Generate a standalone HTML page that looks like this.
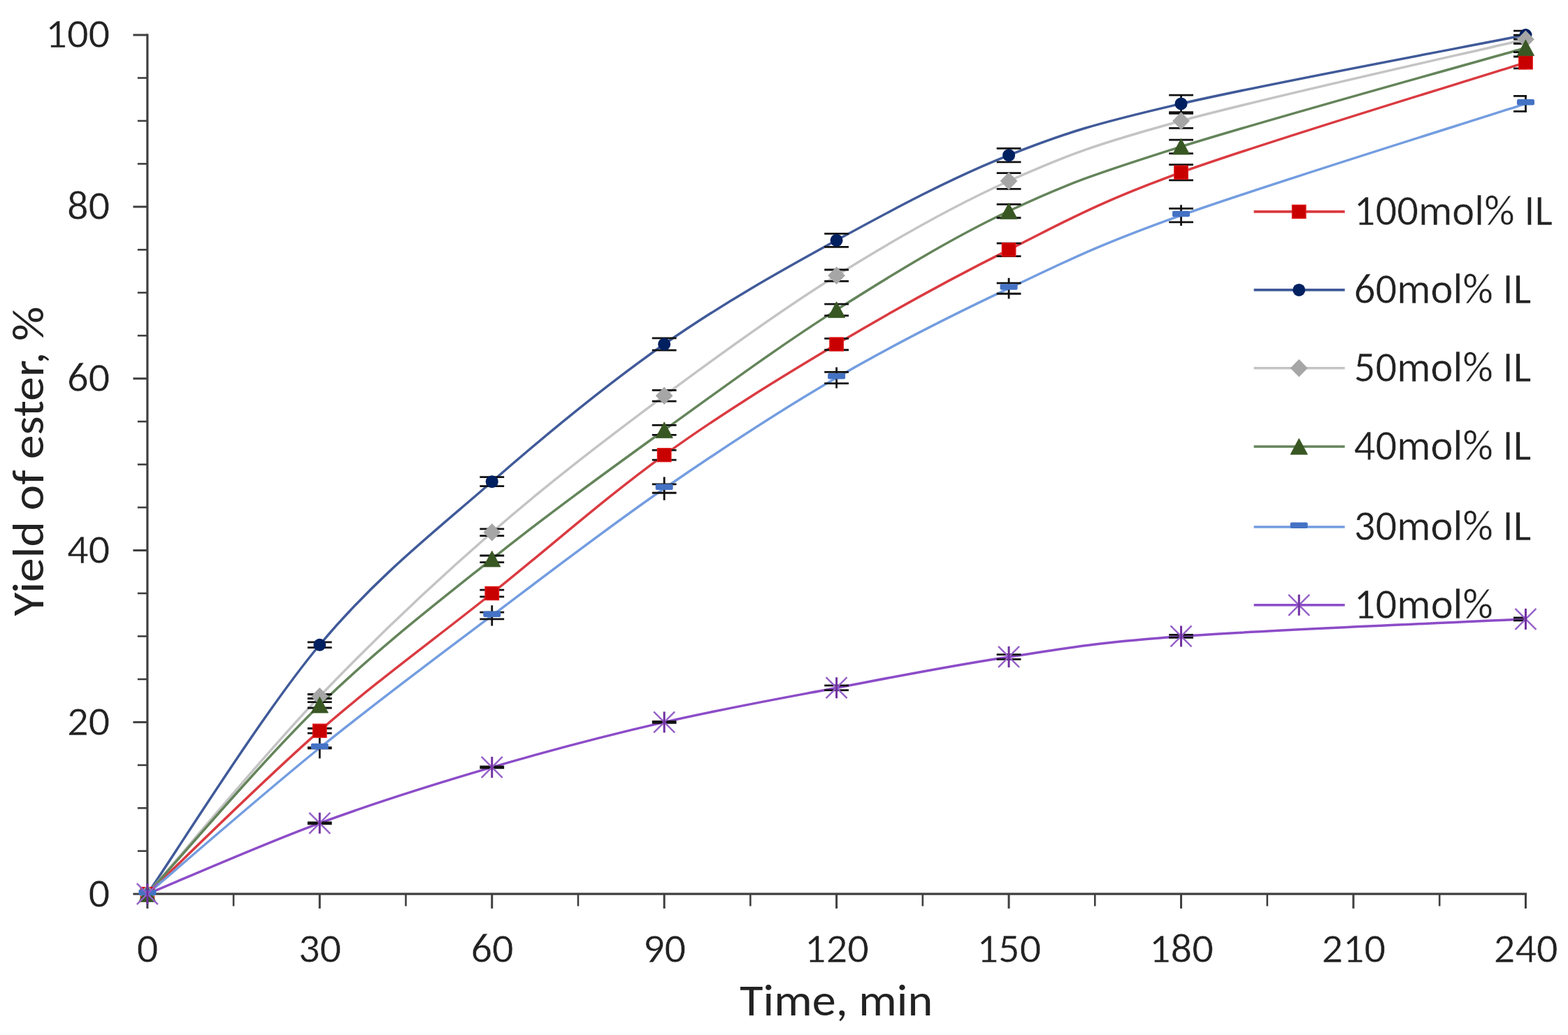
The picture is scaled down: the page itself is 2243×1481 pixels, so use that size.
<!DOCTYPE html>
<html><head><meta charset="utf-8"><title>Yield of ester vs time</title>
<style>html,body{margin:0;padding:0;background:#fff;}svg{display:block;}</style></head>
<body>
<svg width="2243" height="1481" viewBox="0 0 2243 1481">
<rect width="2243" height="1481" fill="#fff"/>
<g>
<defs><clipPath id="pa"><rect x="0" y="0" width="2184" height="1481"/></clipPath></defs>

<g stroke="#3F3F3F" fill="none" stroke-linecap="butt">
<path d="M210.85,48.45 V1280.7" stroke-width="3.2"/>
<path d="M209.35,1279.2 H2184.05" stroke-width="3.2"/>
<path d="M190.4,1279.20 H210.85" stroke-width="3"/>
<path d="M196.8,1217.74 H210.85" stroke-width="2.6"/>
<path d="M196.8,1156.29 H210.85" stroke-width="2.6"/>
<path d="M196.8,1094.83 H210.85" stroke-width="2.6"/>
<path d="M190.4,1033.37 H210.85" stroke-width="3"/>
<path d="M196.8,971.91 H210.85" stroke-width="2.6"/>
<path d="M196.8,910.46 H210.85" stroke-width="2.6"/>
<path d="M196.8,849.00 H210.85" stroke-width="2.6"/>
<path d="M190.4,787.54 H210.85" stroke-width="3"/>
<path d="M196.8,726.08 H210.85" stroke-width="2.6"/>
<path d="M196.8,664.63 H210.85" stroke-width="2.6"/>
<path d="M196.8,603.17 H210.85" stroke-width="2.6"/>
<path d="M190.4,541.71 H210.85" stroke-width="3"/>
<path d="M196.8,480.25 H210.85" stroke-width="2.6"/>
<path d="M196.8,418.80 H210.85" stroke-width="2.6"/>
<path d="M196.8,357.34 H210.85" stroke-width="2.6"/>
<path d="M190.4,295.88 H210.85" stroke-width="3"/>
<path d="M196.8,234.42 H210.85" stroke-width="2.6"/>
<path d="M196.8,172.97 H210.85" stroke-width="2.6"/>
<path d="M196.8,111.51 H210.85" stroke-width="2.6"/>
<path d="M190.4,50.05 H210.85" stroke-width="3"/>
<path d="M210.85,1279.2 V1300" stroke-width="3"/>
<path d="M334.07,1279.2 V1296.6" stroke-width="2.6"/>
<path d="M457.30,1279.2 V1300" stroke-width="3"/>
<path d="M580.52,1279.2 V1296.6" stroke-width="2.6"/>
<path d="M703.75,1279.2 V1300" stroke-width="3"/>
<path d="M826.98,1279.2 V1296.6" stroke-width="2.6"/>
<path d="M950.20,1279.2 V1300" stroke-width="3"/>
<path d="M1073.42,1279.2 V1296.6" stroke-width="2.6"/>
<path d="M1196.65,1279.2 V1300" stroke-width="3"/>
<path d="M1319.88,1279.2 V1296.6" stroke-width="2.6"/>
<path d="M1443.10,1279.2 V1300" stroke-width="3"/>
<path d="M1566.32,1279.2 V1296.6" stroke-width="2.6"/>
<path d="M1689.55,1279.2 V1300" stroke-width="3"/>
<path d="M1812.77,1279.2 V1296.6" stroke-width="2.6"/>
<path d="M1936.00,1279.2 V1300" stroke-width="3"/>
<path d="M2059.22,1279.2 V1296.6" stroke-width="2.6"/>
<path d="M2182.45,1279.2 V1300" stroke-width="3"/>
</g>
<g font-family="Carlito, 'Liberation Sans', sans-serif" font-size="60.4" fill="#222222" stroke="#fff" stroke-width="0.45">
<text x="157.2" y="1297.60" text-anchor="end" textLength="30.61" lengthAdjust="spacingAndGlyphs">0</text>
<text x="157.2" y="1051.77" text-anchor="end" textLength="61.22" lengthAdjust="spacingAndGlyphs">20</text>
<text x="157.2" y="805.94" text-anchor="end" textLength="61.22" lengthAdjust="spacingAndGlyphs">40</text>
<text x="157.2" y="560.11" text-anchor="end" textLength="61.22" lengthAdjust="spacingAndGlyphs">60</text>
<text x="157.2" y="314.28" text-anchor="end" textLength="61.22" lengthAdjust="spacingAndGlyphs">80</text>
<text x="157.2" y="68.45" text-anchor="end" textLength="91.83" lengthAdjust="spacingAndGlyphs">100</text>
<text x="211.15" y="1376.8" text-anchor="middle" textLength="30.61" lengthAdjust="spacingAndGlyphs">0</text>
<text x="457.60" y="1376.8" text-anchor="middle" textLength="61.22" lengthAdjust="spacingAndGlyphs">30</text>
<text x="704.05" y="1376.8" text-anchor="middle" textLength="61.22" lengthAdjust="spacingAndGlyphs">60</text>
<text x="950.50" y="1376.8" text-anchor="middle" textLength="61.22" lengthAdjust="spacingAndGlyphs">90</text>
<text x="1196.95" y="1376.8" text-anchor="middle" textLength="91.83" lengthAdjust="spacingAndGlyphs">120</text>
<text x="1443.40" y="1376.8" text-anchor="middle" textLength="91.83" lengthAdjust="spacingAndGlyphs">150</text>
<text x="1689.85" y="1376.8" text-anchor="middle" textLength="91.83" lengthAdjust="spacingAndGlyphs">180</text>
<text x="1936.30" y="1376.8" text-anchor="middle" textLength="91.83" lengthAdjust="spacingAndGlyphs">210</text>
<text x="2182.75" y="1376.8" text-anchor="middle" textLength="91.83" lengthAdjust="spacingAndGlyphs">240</text>
</g>
<text x="1196.3" y="1452.8" text-anchor="middle" font-family="Carlito, 'Liberation Sans', sans-serif" font-size="64.5" fill="#222222" textLength="276" lengthAdjust="spacingAndGlyphs">Time, min</text>
<text transform="translate(62.4,881.5) rotate(-90)" x="0" y="0" font-family="Carlito, 'Liberation Sans', sans-serif" font-size="64" fill="#222222" textLength="443" lengthAdjust="spacingAndGlyphs">Yield of ester, %</text>
<g fill="none" stroke-linejoin="round" stroke-linecap="round">
<path d="M210.85,1279.20 C251.92,1240.28 375.15,1117.36 457.30,1045.66 C539.45,973.96 621.60,914.76 703.75,849.00 C785.90,783.24 868.05,710.51 950.20,651.10 C1032.35,591.70 1114.50,541.51 1196.65,492.54 C1278.80,443.58 1360.95,398.31 1443.10,357.34 C1525.25,316.37 1566.33,291.37 1689.55,246.71 C1812.77,202.05 2100.30,115.60 2182.45,89.38" stroke="#DA3A40" stroke-width="3.5"/>
<path d="M210.85,1279.20 C251.92,1219.79 375.15,1021.08 457.30,922.75 C539.45,824.41 621.60,760.91 703.75,689.21 C785.90,617.51 868.05,550.11 950.20,492.54 C1032.35,434.98 1114.50,388.89 1196.65,343.82 C1278.80,298.75 1360.95,254.70 1443.10,222.13 C1525.25,189.56 1566.33,177.06 1689.55,148.38 C1812.77,119.70 2100.30,66.44 2182.45,50.05" stroke="#405A99" stroke-width="3.5"/>
<path d="M210.85,1279.20 C251.92,1232.08 375.15,1082.74 457.30,996.50 C539.45,910.25 621.60,833.43 703.75,761.73 C785.90,690.03 868.05,627.55 950.20,566.29 C1032.35,505.04 1114.50,445.43 1196.65,394.21 C1278.80,343.00 1360.95,295.88 1443.10,259.01 C1525.25,222.13 1566.33,206.77 1689.55,172.97 C1812.77,139.16 2100.30,75.66 2182.45,56.20" stroke="#C4C4C4" stroke-width="3.5"/>
<path d="M210.85,1279.20 C251.92,1234.13 375.15,1088.68 457.30,1008.79 C539.45,928.89 621.60,865.39 703.75,799.83 C785.90,734.28 868.05,674.87 950.20,615.46 C1032.35,556.05 1114.50,495.62 1196.65,443.38 C1278.80,391.14 1360.95,340.95 1443.10,302.03 C1525.25,263.10 1566.33,248.76 1689.55,209.84 C1812.77,170.92 2100.30,92.05 2182.45,68.49" stroke="#64845A" stroke-width="3.5"/>
<path d="M210.85,1279.20 C251.92,1244.37 375.15,1136.62 457.30,1070.24 C539.45,1003.87 621.60,942.82 703.75,880.96 C785.90,819.09 868.05,755.79 950.20,699.04 C1032.35,642.30 1114.50,588.21 1196.65,540.48 C1278.80,492.75 1360.95,451.37 1443.10,412.65 C1525.25,373.93 1566.33,352.22 1689.55,308.17 C1812.77,264.13 2100.30,175.01 2182.45,148.38" stroke="#739DE0" stroke-width="3.5"/>
<path d="M210.85,1279.20 C251.92,1262.30 375.15,1208.01 457.30,1177.80 C539.45,1147.58 621.60,1121.97 703.75,1097.90 C785.90,1073.83 868.05,1052.32 950.20,1033.37 C1032.35,1014.42 1114.50,999.77 1196.65,984.20 C1278.80,968.63 1360.95,952.25 1443.10,939.95 C1525.25,927.66 1566.33,919.47 1689.55,910.46 C1812.77,901.44 2100.30,889.97 2182.45,885.87" stroke="#8C4CC8" stroke-width="3.5"/>
</g>
<g clip-path="url(#pa)" stroke="#111" stroke-width="2.8" fill="none">
<path d="M457.30,1042.26V1049.06M439.90,1042.26H474.70M439.90,1049.06H474.70"/>
<path d="M703.75,844.10V853.90M686.35,844.10H721.15M686.35,853.90H721.15"/>
<path d="M950.20,644.10V658.10M932.80,644.10H967.60M932.80,658.10H967.60"/>
<path d="M1196.65,484.34V500.74M1179.25,484.34H1214.05M1179.25,500.74H1214.05"/>
<path d="M1443.10,348.04V366.64M1425.70,348.04H1460.50M1425.70,366.64H1460.50"/>
<path d="M1689.55,235.61V257.81M1672.15,235.61H1706.95M1672.15,257.81H1706.95"/>
<path d="M2182.45,80.98V97.78M2165.05,80.98H2199.85M2165.05,97.78H2199.85"/>
<path d="M457.30,918.85V926.65M439.90,918.85H474.70M439.90,926.65H474.70"/>
<path d="M703.75,682.71V695.71M686.35,682.71H721.15M686.35,695.71H721.15"/>
<path d="M950.20,483.94V501.14M932.80,483.94H967.60M932.80,501.14H967.60"/>
<path d="M1196.65,334.32V353.32M1179.25,334.32H1214.05M1179.25,353.32H1214.05"/>
<path d="M1443.10,212.43V231.83M1425.70,212.43H1460.50M1425.70,231.83H1460.50"/>
<path d="M1689.55,136.08V160.68M1672.15,136.08H1706.95M1672.15,160.68H1706.95"/>
<path d="M2182.45,44.05V56.05M2165.05,44.05H2199.85M2165.05,56.05H2199.85"/>
<path d="M457.30,993.50V999.50M439.90,993.50H474.70M439.90,999.50H474.70"/>
<path d="M703.75,756.88V766.58M686.35,756.88H721.15M686.35,766.58H721.15"/>
<path d="M950.20,558.39V574.19M932.80,558.39H967.60M932.80,574.19H967.60"/>
<path d="M1196.65,386.01V402.41M1179.25,386.01H1214.05M1179.25,402.41H1214.05"/>
<path d="M1443.10,247.61V270.41M1425.70,247.61H1460.50M1425.70,270.41H1460.50"/>
<path d="M1689.55,162.47V183.47M1672.15,162.47H1706.95M1672.15,183.47H1706.95"/>
<path d="M2182.45,50.20V62.20M2165.05,50.20H2199.85M2165.05,62.20H2199.85"/>
<path d="M457.30,1004.59V1012.99M439.90,1004.59H474.70M439.90,1012.99H474.70"/>
<path d="M703.75,794.98V804.68M686.35,794.98H721.15M686.35,804.68H721.15"/>
<path d="M950.20,608.46V622.46M932.80,608.46H967.60M932.80,622.46H967.60"/>
<path d="M1196.65,435.18V451.58M1179.25,435.18H1214.05M1179.25,451.58H1214.05"/>
<path d="M1443.10,292.33V311.73M1425.70,292.33H1460.50M1425.70,311.73H1460.50"/>
<path d="M1689.55,200.04V219.64M1672.15,200.04H1706.95M1672.15,219.64H1706.95"/>
<path d="M2182.45,62.29V74.69M2165.05,62.29H2199.85M2165.05,74.69H2199.85"/>
<path d="M457.30,1055.24V1085.24M439.90,1069.74H474.70M439.90,1070.74H474.70"/>
<path d="M703.75,866.36V895.56M686.35,876.11H721.15M686.35,885.81H721.15"/>
<path d="M950.20,682.44V715.64M932.80,692.84H967.60M932.80,705.24H967.60"/>
<path d="M1196.65,525.48V555.48M1179.25,532.28H1214.05M1179.25,548.68H1214.05"/>
<path d="M1443.10,397.85V427.45M1425.70,405.05H1460.50M1425.70,420.25H1460.50"/>
<path d="M1689.55,293.37V322.97M1672.15,298.47H1706.95M1672.15,317.87H1706.95"/>
<path d="M2182.45,137.38V159.38M2165.05,137.38H2199.85M2165.05,159.38H2199.85"/>
<path d="M457.30,1176.80V1178.80M439.90,1176.80H474.70M439.90,1178.80H474.70"/>
<path d="M703.75,1096.90V1098.90M686.35,1096.90H721.15M686.35,1098.90H721.15"/>
<path d="M950.20,1032.37V1034.37M932.80,1032.37H967.60M932.80,1034.37H967.60"/>
<path d="M1196.65,980.80V987.60M1179.25,980.80H1214.05M1179.25,987.60H1214.05"/>
<path d="M1443.10,936.55V943.35M1425.70,936.55H1460.50M1425.70,943.35H1460.50"/>
<path d="M1689.55,908.46V912.46M1672.15,908.46H1706.95M1672.15,912.46H1706.95"/>
<path d="M2182.45,883.87V887.87M2165.05,883.87H2199.85M2165.05,887.87H2199.85"/>
</g>
<rect x="201.05" y="1269.60" width="19.6" height="19.2" fill="#C80000" stroke="#E41A1A" stroke-width="1.2"/>
<rect x="447.50" y="1036.06" width="19.6" height="19.2" fill="#C80000" stroke="#E41A1A" stroke-width="1.2"/>
<rect x="693.95" y="839.40" width="19.6" height="19.2" fill="#C80000" stroke="#E41A1A" stroke-width="1.2"/>
<rect x="940.40" y="641.50" width="19.6" height="19.2" fill="#C80000" stroke="#E41A1A" stroke-width="1.2"/>
<rect x="1186.85" y="482.94" width="19.6" height="19.2" fill="#C80000" stroke="#E41A1A" stroke-width="1.2"/>
<rect x="1433.30" y="347.74" width="19.6" height="19.2" fill="#C80000" stroke="#E41A1A" stroke-width="1.2"/>
<rect x="1679.75" y="237.11" width="19.6" height="19.2" fill="#C80000" stroke="#E41A1A" stroke-width="1.2"/>
<rect x="2172.65" y="79.78" width="19.6" height="19.2" fill="#C80000" stroke="#E41A1A" stroke-width="1.2"/>
<circle cx="210.85" cy="1279.20" r="9" fill="#002060"/>
<circle cx="457.30" cy="922.75" r="9" fill="#002060"/>
<circle cx="703.75" cy="689.21" r="9" fill="#002060"/>
<circle cx="950.20" cy="492.54" r="9" fill="#002060"/>
<circle cx="1196.65" cy="343.82" r="9" fill="#002060"/>
<circle cx="1443.10" cy="222.13" r="9" fill="#002060"/>
<circle cx="1689.55" cy="148.38" r="9" fill="#002060"/>
<circle cx="2182.45" cy="50.05" r="9" fill="#002060"/>
<path d="M210.85,1266.40 L223.25,1279.20 L210.85,1292.00 L198.45,1279.20Z" fill="#A6A6A6"/>
<path d="M457.30,983.70 L469.70,996.50 L457.30,1009.30 L444.90,996.50Z" fill="#A6A6A6"/>
<path d="M703.75,748.93 L716.15,761.73 L703.75,774.53 L691.35,761.73Z" fill="#A6A6A6"/>
<path d="M950.20,553.49 L962.60,566.29 L950.20,579.09 L937.80,566.29Z" fill="#A6A6A6"/>
<path d="M1196.65,381.41 L1209.05,394.21 L1196.65,407.01 L1184.25,394.21Z" fill="#A6A6A6"/>
<path d="M1443.10,246.21 L1455.50,259.01 L1443.10,271.81 L1430.70,259.01Z" fill="#A6A6A6"/>
<path d="M1689.55,160.17 L1701.95,172.97 L1689.55,185.77 L1677.15,172.97Z" fill="#A6A6A6"/>
<path d="M2182.45,43.40 L2194.85,56.20 L2182.45,69.00 L2170.05,56.20Z" fill="#A6A6A6"/>
<path d="M210.85,1267.60 L223.05,1290.40 L198.65,1290.40Z" fill="#385723" stroke="#385723" stroke-width="0.8" stroke-linejoin="round"/>
<path d="M457.30,997.19 L469.50,1019.99 L445.10,1019.99Z" fill="#385723" stroke="#385723" stroke-width="0.8" stroke-linejoin="round"/>
<path d="M703.75,788.23 L715.95,811.03 L691.55,811.03Z" fill="#385723" stroke="#385723" stroke-width="0.8" stroke-linejoin="round"/>
<path d="M950.20,603.86 L962.40,626.66 L938.00,626.66Z" fill="#385723" stroke="#385723" stroke-width="0.8" stroke-linejoin="round"/>
<path d="M1196.65,431.78 L1208.85,454.58 L1184.45,454.58Z" fill="#385723" stroke="#385723" stroke-width="0.8" stroke-linejoin="round"/>
<path d="M1443.10,290.43 L1455.30,313.23 L1430.90,313.23Z" fill="#385723" stroke="#385723" stroke-width="0.8" stroke-linejoin="round"/>
<path d="M1689.55,198.24 L1701.75,221.04 L1677.35,221.04Z" fill="#385723" stroke="#385723" stroke-width="0.8" stroke-linejoin="round"/>
<path d="M2182.45,56.89 L2194.65,79.69 L2170.25,79.69Z" fill="#385723" stroke="#385723" stroke-width="0.8" stroke-linejoin="round"/>
<rect x="198.35" y="1272.70" width="25" height="8.5" rx="2" fill="#4472C4"/>
<rect x="444.80" y="1063.74" width="25" height="8.5" rx="2" fill="#4472C4"/>
<rect x="691.25" y="874.46" width="25" height="8.5" rx="2" fill="#4472C4"/>
<rect x="937.70" y="692.54" width="25" height="8.5" rx="2" fill="#4472C4"/>
<rect x="1184.15" y="533.98" width="25" height="8.5" rx="2" fill="#4472C4"/>
<rect x="1430.60" y="406.15" width="25" height="8.5" rx="2" fill="#4472C4"/>
<rect x="1677.05" y="301.67" width="25" height="8.5" rx="2" fill="#4472C4"/>
<rect x="2169.95" y="141.88" width="25" height="8.5" rx="2" fill="#4472C4"/>
<g fill="none"><path d="M195.85,1264.20L225.85,1294.20M225.85,1264.20L195.85,1294.20" stroke="#9560C8" stroke-width="2.4"/><path d="M210.85,1264.20V1294.20" stroke="#7030A0" stroke-width="3"/></g>
<g fill="none"><path d="M442.30,1162.80L472.30,1192.80M472.30,1162.80L442.30,1192.80" stroke="#9560C8" stroke-width="2.4"/><path d="M457.30,1162.80V1192.80" stroke="#7030A0" stroke-width="3"/></g>
<g fill="none"><path d="M688.75,1082.90L718.75,1112.90M718.75,1082.90L688.75,1112.90" stroke="#9560C8" stroke-width="2.4"/><path d="M703.75,1082.90V1112.90" stroke="#7030A0" stroke-width="3"/></g>
<g fill="none"><path d="M935.20,1018.37L965.20,1048.37M965.20,1018.37L935.20,1048.37" stroke="#9560C8" stroke-width="2.4"/><path d="M950.20,1018.37V1048.37" stroke="#7030A0" stroke-width="3"/></g>
<g fill="none"><path d="M1181.65,969.20L1211.65,999.20M1211.65,969.20L1181.65,999.20" stroke="#9560C8" stroke-width="2.4"/><path d="M1196.65,969.20V999.20" stroke="#7030A0" stroke-width="3"/></g>
<g fill="none"><path d="M1428.10,924.95L1458.10,954.95M1458.10,924.95L1428.10,954.95" stroke="#9560C8" stroke-width="2.4"/><path d="M1443.10,924.95V954.95" stroke="#7030A0" stroke-width="3"/></g>
<g fill="none"><path d="M1674.55,895.46L1704.55,925.46M1704.55,895.46L1674.55,925.46" stroke="#9560C8" stroke-width="2.4"/><path d="M1689.55,895.46V925.46" stroke="#7030A0" stroke-width="3"/></g>
<g fill="none"><path d="M2167.45,870.87L2197.45,900.87M2197.45,870.87L2167.45,900.87" stroke="#9560C8" stroke-width="2.4"/><path d="M2182.45,870.87V900.87" stroke="#7030A0" stroke-width="3"/></g>
<path d="M1793.6,302.9 H1923.7" stroke="#DA3A40" stroke-width="3.6" fill="none"/>
<rect x="1848.40" y="293.30" width="19.6" height="19.2" fill="#C80000" stroke="#E41A1A" stroke-width="1.2"/>
<text x="1936.8" y="321.7" font-family="Carlito, 'Liberation Sans', sans-serif" font-size="60.6" fill="#222222" stroke="#fff" stroke-width="0.45" textLength="284.16" lengthAdjust="spacingAndGlyphs">100mol% IL</text>
<path d="M1793.6,414.9 H1923.7" stroke="#405A99" stroke-width="3.6" fill="none"/>
<circle cx="1858.20" cy="414.90" r="9" fill="#002060"/>
<text x="1936.8" y="433.7" font-family="Carlito, 'Liberation Sans', sans-serif" font-size="60.6" fill="#222222" stroke="#fff" stroke-width="0.45" textLength="253.45" lengthAdjust="spacingAndGlyphs">60mol% IL</text>
<path d="M1793.6,526.8 H1923.7" stroke="#C4C4C4" stroke-width="3.6" fill="none"/>
<path d="M1858.20,514.00 L1870.60,526.80 L1858.20,539.60 L1845.80,526.80Z" fill="#A6A6A6"/>
<text x="1936.8" y="545.6" font-family="Carlito, 'Liberation Sans', sans-serif" font-size="60.6" fill="#222222" stroke="#fff" stroke-width="0.45" textLength="253.45" lengthAdjust="spacingAndGlyphs">50mol% IL</text>
<path d="M1793.6,639.0 H1923.7" stroke="#64845A" stroke-width="3.6" fill="none"/>
<path d="M1858.20,627.40 L1870.40,650.20 L1846.00,650.20Z" fill="#385723" stroke="#385723" stroke-width="0.8" stroke-linejoin="round"/>
<text x="1936.8" y="657.8" font-family="Carlito, 'Liberation Sans', sans-serif" font-size="60.6" fill="#222222" stroke="#fff" stroke-width="0.45" textLength="253.45" lengthAdjust="spacingAndGlyphs">40mol% IL</text>
<path d="M1793.6,754.0 H1923.7" stroke="#739DE0" stroke-width="3.6" fill="none"/>
<rect x="1845.70" y="747.50" width="25" height="8.5" rx="2" fill="#4472C4"/>
<text x="1936.8" y="772.8" font-family="Carlito, 'Liberation Sans', sans-serif" font-size="60.6" fill="#222222" stroke="#fff" stroke-width="0.45" textLength="253.45" lengthAdjust="spacingAndGlyphs">30mol% IL</text>
<path d="M1793.6,865.8 H1923.7" stroke="#8C4CC8" stroke-width="3.6" fill="none"/>
<g fill="none"><path d="M1843.20,850.80L1873.20,880.80M1873.20,850.80L1843.20,880.80" stroke="#9560C8" stroke-width="2.4"/><path d="M1858.20,850.80V880.80" stroke="#7030A0" stroke-width="3"/></g>
<text x="1936.8" y="884.6" font-family="Carlito, 'Liberation Sans', sans-serif" font-size="60.6" fill="#222222" stroke="#fff" stroke-width="0.45" textLength="199.02" lengthAdjust="spacingAndGlyphs">10mol%</text>
</g>
</svg>
</body></html>
